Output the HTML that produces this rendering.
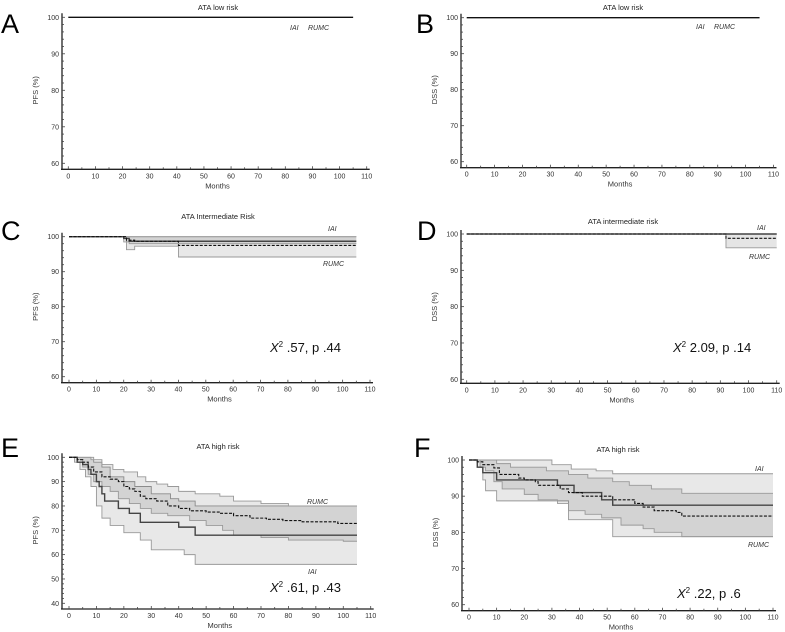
<!DOCTYPE html>
<html><head><meta charset="utf-8"><style>
html,body{margin:0;padding:0;background:#fff;}
svg{display:block;font-family:"Liberation Sans",sans-serif;}
</style></head><body>
<svg id="fig" width="785" height="632" viewBox="0 0 785 632"></svg>
<script>
// ---------- data (step functions: times[], values[]) ----------
const xTicks = [0,10,20,30,40,50,60,70,80,90,100,110];
// C
const cIaiT = [0,20,22,105];           const cIaiV = [100,99.5,98.7,98.7];
const cIaiLoT = [0,20,22,105];         const cIaiLoV = [100,98.5,98,98];
const cRumcT = [0,21,24,40,105];       const cRumcV = [100,99,98.7,97.5,97.5];
const cRumcLoT = [0,21,24,40,105];     const cRumcLoV = [100,96.3,97.3,94.2,94.2];
// D
const dIaiT = [0,110];                 const dIaiV = [100,100];
const dRumcT = [0,92,110];             const dRumcV = [100,98.8,98.8];
const dRumcLoT = [0,92,110];           const dRumcLoV = [100,96.2,96.2];
// E
const eRumcT = [0,3,5,7,9,12,15,18,20,22,24,26,28,32,36,40,44,50,55,60,66,72,78,85,98,105];
const eRumcV = [100,99,98,96,94,92,91,90,88,87,86,84,83,82,80,79,78,77.5,77,76,75,74.5,74,73.5,72.8,72.8];
const eRumcUpT = [0,5,8,12,16,20,25,28,32,36,40,46,55,60,70,80,105];
const eRumcUpV = [100,100,99,97,95,94,92,90,89,88,86,85,84,82,81,80,80];
const eRumcLoT = [0,3,5,7,9,12,15,18,22,26,30,36,44,50,56,60,70,80,100,105];
const eRumcLoV = [100,99,96,93,90,88,86,83,81,79,77,76,74,72,70,68,67,66,65.5,65.5];
const eIaiT = [0,2,3,5,7,8,10,11,12,13,18,22,26,40,46,105];
const eIaiV = [100,100,98,97,95,93,90,88,85,82,79,77,73.3,71.3,68,68];
const eIaiUpT = [0,6,9,12,15,20,24,30,37,40,46,105];
const eIaiUpV = [100,100,98,96,92,90,88,85,83,82,80,80];
const eIaiLoT = [0,2,4,6,8,10,12,15,20,26,30,42,46,105];
const eIaiLoV = [100,98,95,92,88,80,75,72,69,66,62,60,56,56];
// F
const fIaiT = [0,3,5,10,32,38,48,52,110];
const fIaiV = [100,98,96.5,94.5,93,91,89,87.5,87.5];
const fIaiUpT = [0,30,37,46,52,110];   const fIaiUpV = [100,98.7,97.5,97,96.2,96.2];
const fIaiLoT = [0,3,5,6,10,36,52,110];const fIaiLoV = [100,98,94.5,91.5,88.7,83.5,78.8,78.8];
const fRumcT = [0,3,5,9,11,18,20,24,25,33,36,41,52,60,63,67,75,77,110];
const fRumcV = [100,99.5,98.7,97.8,96,95,94.5,94,93,92,91,90,89,88,87,86,85.5,84.5,84.5];
const fRumcUpT = [0,10,15,28,36,43,52,58,66,77,110];
const fRumcUpV = [100,99,98,97,96,95,94,93,92,90.8,90.8];
const fRumcLoT = [0,4,6,9,12,20,25,32,36,42,48,55,63,67,77,110];
const fRumcLoV = [100,98,97,94,92,90.5,89,88,86,85,84,82,81,80,78.8,78.8];

const NS = "http://www.w3.org/2000/svg";
const svg = document.getElementById('fig');
function mk(tag, attrs, parent){const e=document.createElementNS(NS,tag);for(const k in attrs)e.setAttribute(k,attrs[k]);(parent||svg).appendChild(e);return e;}
function txt(s, attrs, parent){const e=mk('text',attrs,parent);e.textContent=s;return e;}

function panel(p){
  const g = mk('g',{});
  
  
  const sx = m => p.x0 + m*(p.x110-p.x0)/110;
  const sy = v => p.y100 + (100-v)*(p.yMinPx-p.y100)/(100-p.ymin);
  p.sx=sx; p.sy=sy; p.g=g;
  // letter
  const L = txt(p.letter,{x:p.lx,y:p.ly,'font-size':27,fill:'#000'},g);
  
  
  const T = txt(p.title,{x:p.tx,y:p.ty,'font-size':7.5,'text-anchor':'middle',fill:'#222'},g);
  
  
  // axes
  const axY = p.axisY;
  const ax = mk('path',{d:`M${p.yax},${p.y100-4}V${axY}M${p.yax-1},${axY}H${sx(110)+3}`,stroke:'#222','stroke-width':1.3,fill:'none'},g);
  
  
  for(let v=p.ymin; v<=100; v+=2){
    const major = v%10===0;
    mk('line',{x1:p.yax,x2:p.yax+(major?3:2),y1:sy(v),y2:sy(v),stroke:'#444','stroke-width':0.8},g);
    if(major){
      const t=txt(String(v),{x:p.yax-3,y:sy(v)+2.5,'font-size':7,'text-anchor':'end',fill:'#333'},g);
      
      
    }
  }
  for(let m=0;m<=110;m+=5){
    const major = m%10===0;
    mk('line',{x1:sx(m),x2:sx(m),y1:axY,y2:axY-(major?3:2),stroke:'#444','stroke-width':0.8},g);
  }
  xTicks.forEach(m=>{
    const t=txt(String(m),{x:sx(m),y:axY+9,'font-size':7,'text-anchor':'middle',fill:'#333'},g);
    
    
  });
  const xt = txt('Months',{x:(sx(0)+sx(110))/2,y:axY+19,'font-size':7.5,'text-anchor':'middle',fill:'#333'},g);
  
  
  const ycy=(sy(100)+sy(p.ymin))/2;
  const yt = txt(p.ylab,{x:p.yax-24,y:ycy,'font-size':7.5,'text-anchor':'middle',fill:'#333',transform:`rotate(-90 ${p.yax-24} ${ycy})`},g);
  
  
  return p;
}
function stepPts(p,T,V){
  let pts=[[p.sx(T[0]),p.sy(V[0])]];
  for(let i=1;i<T.length;i++){pts.push([p.sx(T[i]),p.sy(V[i-1])]);pts.push([p.sx(T[i]),p.sy(V[i])]);}
  return pts;
}
function line(p,T,V,style,name){
  const d='M'+stepPts(p,T,V).map(q=>q.join(',')).join('L');
  const e=mk('path',Object.assign({d,fill:'none'},style),p.g);
  
  
}
function band(p,Tu,Vu,Tl,Vl,fill,name){
  const up=stepPts(p,Tu,Vu), lo=stepPts(p,Tl,Vl).reverse();
  const d='M'+up.concat(lo).map(q=>q.join(',')).join('L')+'Z';
  const e=mk('path',{d,fill,stroke:'none'},p.g);
  
  
  line(p,Tu,Vu,{stroke:'#999','stroke-width':0.9},name+'-upper');
  line(p,Tl,Vl,{stroke:'#999','stroke-width':0.9},name+'-lower');
}
function label(p,s,x,y,name,size,italic){
  const t=txt(s,{x,y,'font-size':size||7,'font-style':italic===false?'normal':'italic',fill:'#333'},p.g);
  
  
  return t;
}
function chi(p,rest,x,y){
  const t=mk('text',{x,y,'font-size':13,fill:'#111'},p.g);
  
  
  const a=mk('tspan',{'font-style':'italic'},t);a.textContent='X';
  const b=mk('tspan',{dy:-5,'font-size':8},t);b.textContent='2';
  const c=mk('tspan',{dy:5},t);c.textContent=' '+rest;
}
const solid={stroke:'#444','stroke-width':1.4};
const dashed={stroke:'#111','stroke-width':1.1,'stroke-dasharray':'3,1.5'};

// A
let A=panel({letter:'A',lx:1,ly:33,title:'ATA low risk',tx:218,ty:10,ylab:'PFS (%)',yax:62,x0:68.3,x110:366.7,y100:17.3,yMinPx:163.3,ymin:60,axisY:169.3});
line(A,[0,105],[100,100],{stroke:'#111','stroke-width':1.4},'iai-rumc-curve');
label(A,'IAI',290,30,'legend-iai');label(A,'RUMC',308,30,'legend-rumc');
// B
let B=panel({letter:'B',lx:416,ly:33,title:'ATA low risk',tx:623,ty:10,ylab:'DSS (%)',yax:461,x0:466.7,x110:773.5,y100:17.7,yMinPx:161.7,ymin:60,axisY:167.7});
line(B,[0,105],[100,100],{stroke:'#111','stroke-width':1.4},'iai-rumc-curve');
label(B,'IAI',696,29,'legend-iai');label(B,'RUMC',714,29,'legend-rumc');
// C
let C=panel({letter:'C',lx:1,ly:240,title:'ATA Intermediate Risk',tx:218,ty:219,ylab:'PFS (%)',yax:62,x0:69,x110:370,y100:236.7,yMinPx:376.7,ymin:60,axisY:382.7});
band(C,[0,105],[100,100],cRumcLoT,cRumcLoV,'rgba(0,0,0,0.09)','rumc-ci-band');
band(C,[0,105],[100,100],cIaiLoT,cIaiLoV,'rgba(0,0,0,0.09)','iai-ci-band');
line(C,cIaiT,cIaiV,solid,'iai-curve');line(C,cRumcT,cRumcV,dashed,'rumc-curve');
label(C,'IAI',328,231,'legend-iai');label(C,'RUMC',323,266,'legend-rumc');
chi(C,'.57, p .44',270,352);
// D
let D=panel({letter:'D',lx:417,ly:240,title:'ATA intermediate risk',tx:623,ty:224,ylab:'DSS (%)',yax:461,x0:466.7,x110:776.7,y100:234,yMinPx:379.3,ymin:60,axisY:383.3});
band(D,[0,110],[100,100],dRumcLoT,dRumcLoV,'rgba(0,0,0,0.1)','rumc-ci-band');
line(D,dIaiT,dIaiV,solid,'iai-curve');line(D,dRumcT,dRumcV,dashed,'rumc-curve');
label(D,'IAI',757,230,'legend-iai');label(D,'RUMC',749,259,'legend-rumc');
chi(D,'2.09, p .14',673,352);
// E
let E=panel({letter:'E',lx:1,ly:457,title:'ATA high risk',tx:218,ty:449,ylab:'PFS (%)',yax:62,x0:69,x110:370.7,y100:457.3,yMinPx:603.3,ymin:40,axisY:609});
band(E,eIaiUpT,eIaiUpV,eIaiLoT,eIaiLoV,'rgba(0,0,0,0.09)','iai-ci-band');
band(E,eRumcUpT,eRumcUpV,eRumcLoT,eRumcLoV,'rgba(0,0,0,0.09)','rumc-ci-band');
line(E,eIaiT,eIaiV,solid,'iai-curve');line(E,eRumcT,eRumcV,dashed,'rumc-curve');
label(E,'RUMC',307,504,'legend-rumc');label(E,'IAI',308,574,'legend-iai');
chi(E,'.61, p .43',270,592);
// F
let F=panel({letter:'F',lx:414,ly:457,title:'ATA high risk',tx:618,ty:452,ylab:'DSS (%)',yax:462,x0:469,x110:773,y100:460,yMinPx:604.7,ymin:60,axisY:610.7});
band(F,fIaiUpT,fIaiUpV,fIaiLoT,fIaiLoV,'rgba(0,0,0,0.09)','iai-ci-band');
band(F,fRumcUpT,fRumcUpV,fRumcLoT,fRumcLoV,'rgba(0,0,0,0.09)','rumc-ci-band');
line(F,fIaiT,fIaiV,solid,'iai-curve');line(F,fRumcT,fRumcV,dashed,'rumc-curve');
label(F,'IAI',755,471,'legend-iai');label(F,'RUMC',748,547,'legend-rumc');
chi(F,'.22, p .6',677,598);
</script>
</body></html>
